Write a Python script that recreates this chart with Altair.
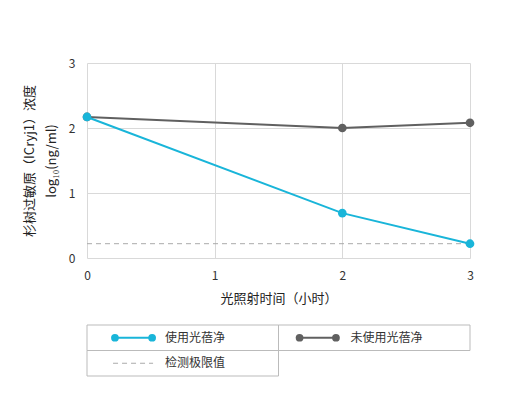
import altair as alt
import pandas as pd

FONT = "Noto Sans CJK SC"

# ---- data ----
hours = [0, 2, 3]
used = [2.17, 0.69, 0.22]          # 使用光蓓净
unused = [2.17, 2.00, 2.08]        # 未使用光蓓净
detect_limit = 0.22                # 检测极限值
series_names = ["使用光蓓净", "未使用光蓓净", "检测极限值"]
series_colors = ["#19b5d9", "#606060", "#aaaaaa"]

rows = []
for h, v in zip(hours, unused):
    rows.append({"series": series_names[1], "hour": h, "value": v})
for h, v in zip(hours, used):
    rows.append({"series": series_names[0], "hour": h, "value": v})
df = pd.DataFrame(rows)
limit_df = pd.DataFrame({"hour": [0, 3], "value": [detect_limit, detect_limit]})

color_scale = alt.Scale(domain=series_names, range=series_colors)

x_enc = alt.X("hour:Q", scale=alt.Scale(domain=[0, 3], nice=False),
              axis=alt.Axis(values=[0, 1, 2, 3], format="d", title="光照射时间（小时）",
                            grid=True, domain=False, ticks=False, labelPadding=12,
                            labelFlush=False, titlePadding=11))
y_enc = alt.Y("value:Q", scale=alt.Scale(domain=[0, 3], nice=False),
              axis=alt.Axis(values=[0, 1, 2, 3], format="d",
                            title=["杉树过敏原（ICryj1）浓度", "log₁₀(ng/ml)"],
                            grid=True, domain=False, ticks=False, labelPadding=12,
                            labelFlush=False, titlePadding=10, titleLineHeight=22))

limit_layer = alt.Chart(limit_df).mark_line(color="#aaaaaa", strokeDash=[5, 4], strokeWidth=1).encode(
    x=x_enc, y=y_enc)

gray_df = df[df.series == series_names[1]]
cyan_df = df[df.series == series_names[0]]

def series_layers(d):
    base = alt.Chart(d).encode(
        x=x_enc, y=y_enc,
        color=alt.Color("series:N", scale=color_scale, legend=None))
    return [base.mark_line(strokeWidth=2), base.mark_point(filled=True, size=75, opacity=1)]

main = alt.layer(limit_layer, *series_layers(gray_df), *series_layers(cyan_df)).properties(
    width=383, height=195)

# ---- custom legend table ----
cells = pd.DataFrame({
    "x0": [0, 1, 0], "x1": [1, 2, 1],
    "y0": [0, 0, 1], "y1": [1, 1, 2],
})
lx = alt.Scale(domain=[0, 2], nice=False, zero=False)
ly = alt.Scale(domain=[0, 2], nice=False, zero=False, reverse=True)

cell_layer = alt.Chart(cells).mark_rect(fillOpacity=0, stroke="#bbbbbb", strokeWidth=1).encode(
    x=alt.X("x0:Q", scale=lx, axis=None), x2="x1:Q",
    y=alt.Y("y0:Q", scale=ly, axis=None), y2="y1:Q")

samples = pd.DataFrame({
    "series": [series_names[0], series_names[0], series_names[1], series_names[1]],
    "x": [0.146, 0.34, 1.11, 1.30],
    "y": [0.5, 0.5, 0.5, 0.5],
})
sample_base = alt.Chart(samples).encode(
    x=alt.X("x:Q", scale=lx, axis=None),
    y=alt.Y("y:Q", scale=ly, axis=None),
    color=alt.Color("series:N", scale=color_scale, legend=None),
    detail="series:N")
sample_lines = sample_base.mark_line(strokeWidth=2)
sample_points = sample_base.mark_point(filled=True, size=60, opacity=1)

dash_df = pd.DataFrame({"x": [0.136, 0.345], "y": [1.5, 1.5]})
dash_layer = alt.Chart(dash_df).mark_line(color="#aaaaaa", strokeDash=[5, 4], strokeWidth=1).encode(
    x=alt.X("x:Q", scale=lx, axis=None), y=alt.Y("y:Q", scale=ly, axis=None))

labels = pd.DataFrame({
    "text": series_names,
    "x": [0.407, 1.376, 0.407],
    "y": [0.5, 0.5, 1.5],
})
label_layer = alt.Chart(labels).mark_text(align="left", baseline="middle", fontSize=12,
                                          color="#333333", font=FONT).encode(
    x=alt.X("x:Q", scale=lx, axis=None), y=alt.Y("y:Q", scale=ly, axis=None), text="text:N")

legend = alt.layer(cell_layer, dash_layer, sample_lines, sample_points, label_layer).properties(
    width=383, height=51)

chart = alt.vconcat(main, legend, spacing=19).properties(
    padding={"left": 23, "top": 57, "right": 5, "bottom": 5}
).configure(font=FONT).configure_view(stroke=None).configure_axis(
    gridColor="#d9d9d9", labelColor="#333333", titleColor="#222222",
    labelFont=FONT, titleFont=FONT, labelFontSize=12, titleFontSize=13,
    titleFontWeight="normal"
)

chart.save("out.html", embed_options={"renderer": "svg", "actions": False})
